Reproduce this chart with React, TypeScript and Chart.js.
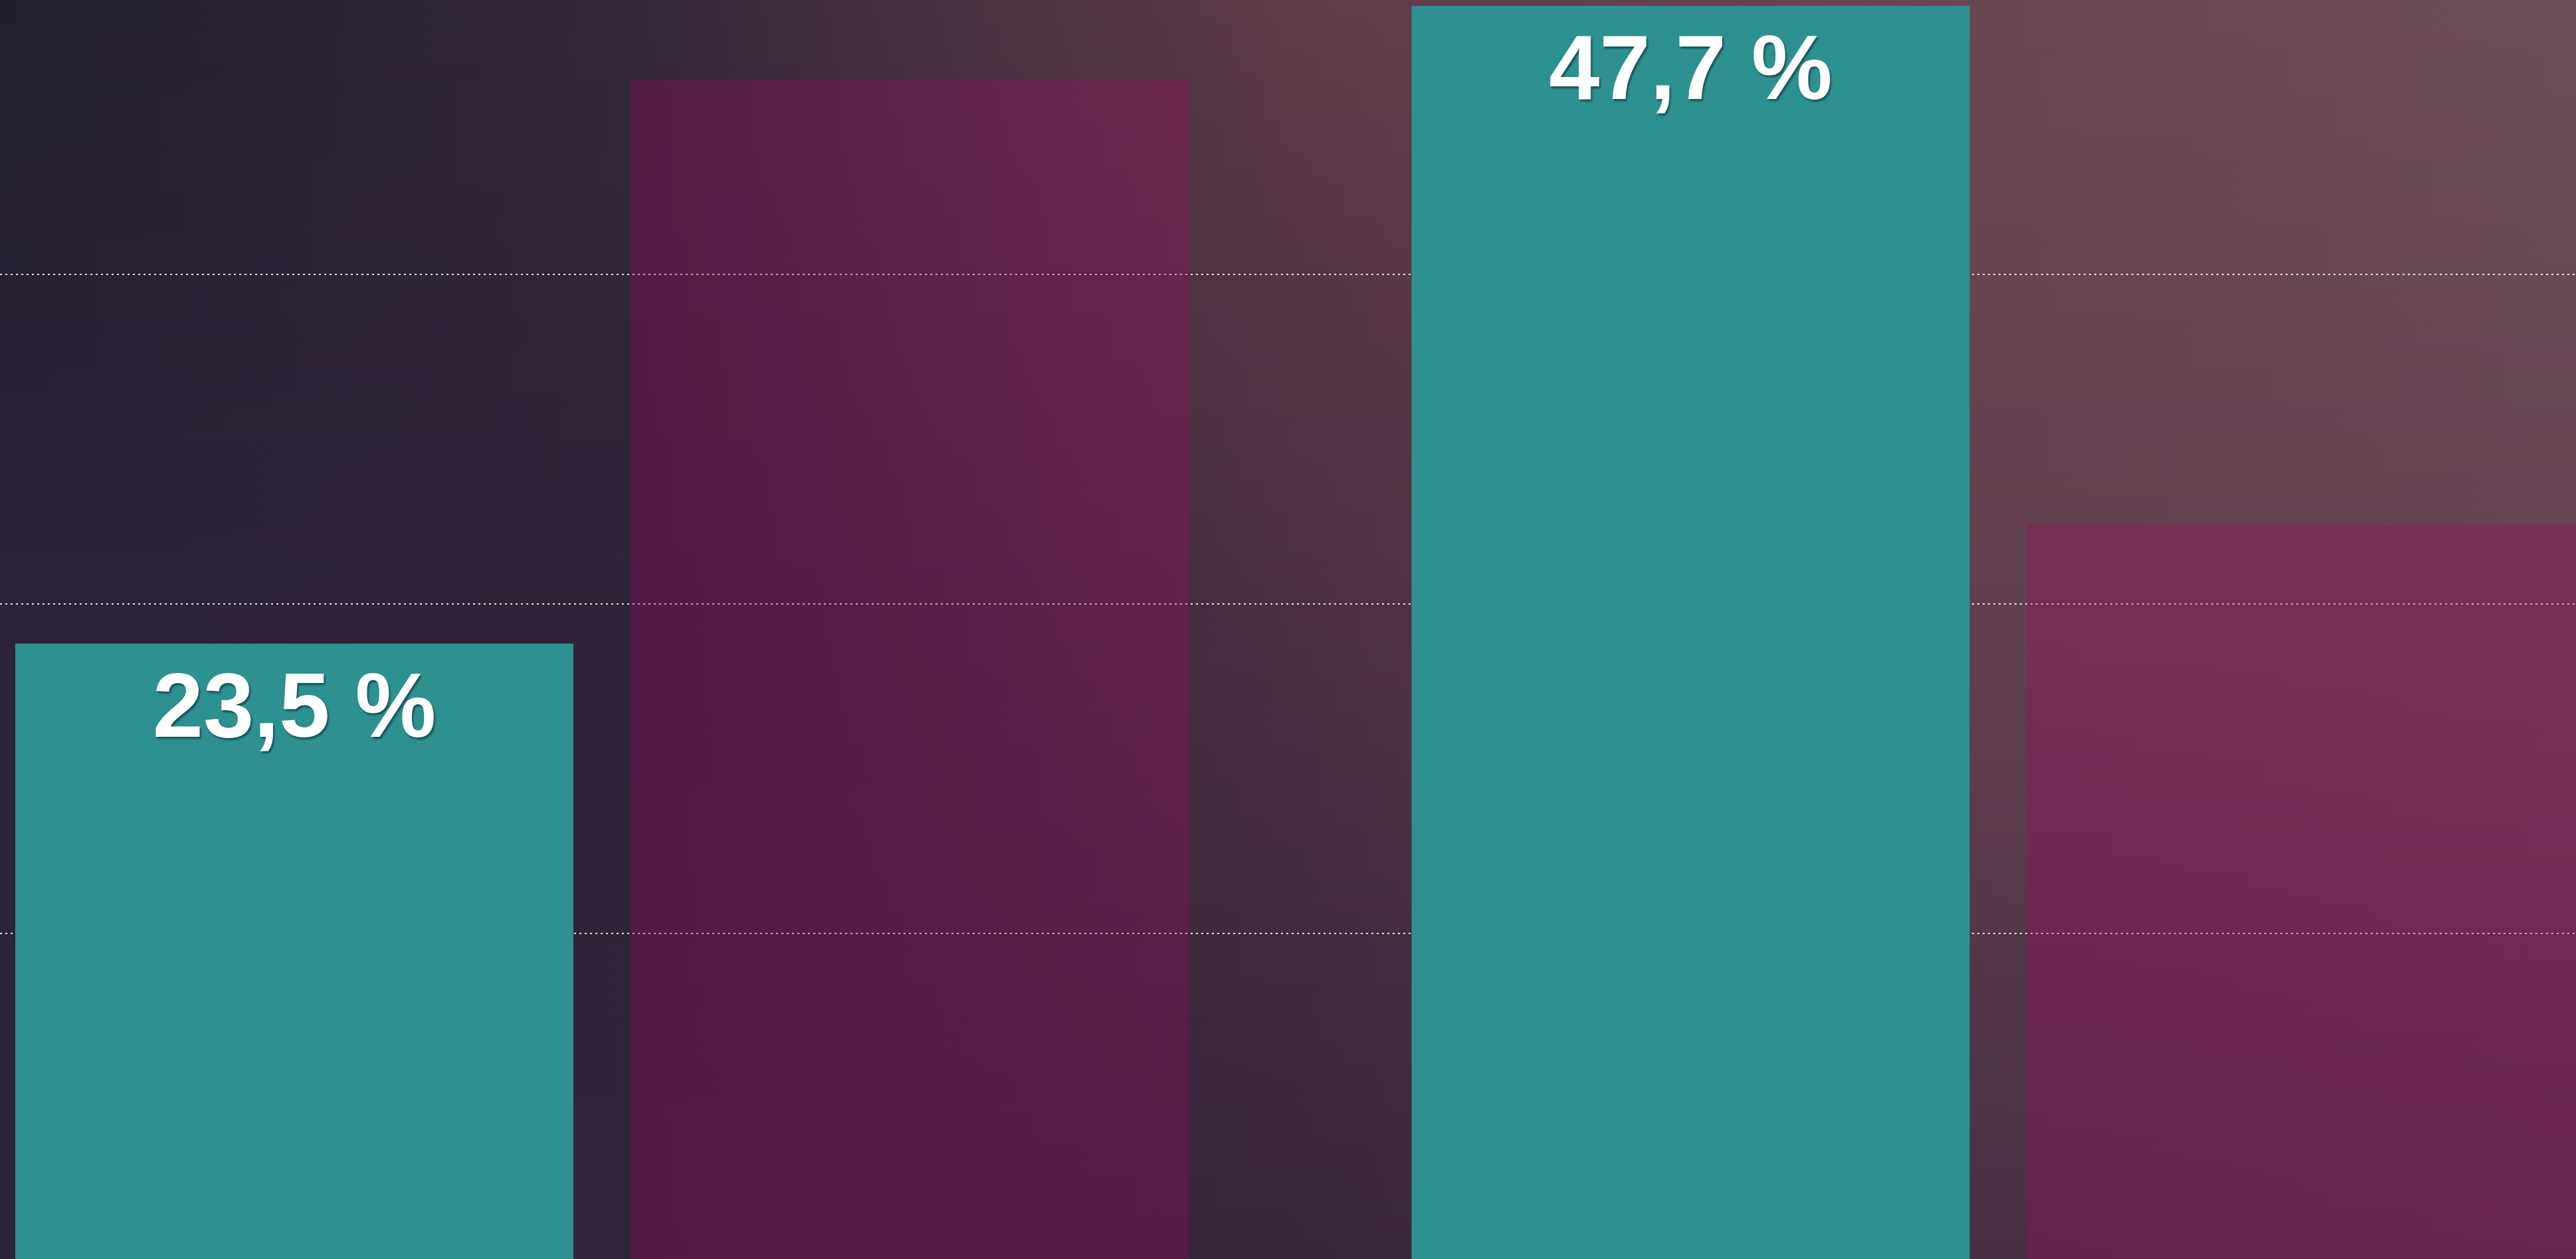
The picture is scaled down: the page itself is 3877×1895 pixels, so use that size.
import React, { useEffect, useRef } from 'react';
import { Chart, registerables } from 'chart.js';

Chart.register(...registerables);

// ---- data ----
const groupPositions = [0, 1];
const tealValues = [23.5, 47.7];
const purpleValues = [44.9, 28.0];
const tealLabels = ['23,5 %', '47,7 %'];
const gridTickValues = [12.5, 25, 37.5];

// ---- background colour field ----
const bgStopsX = [0, 0.25, 0.5, 0.75, 1];
const bgRowsY = [0, 0.5, 1];
const bgTop = ['#221f2d', '#342839', '#5d3b48', '#694651', '#6b4e5a'];
const bgMid = ['#2c2338', '#302338', '#4a2e42', '#623f4f', '#654452'];
const bgBottom = ['#2d2339', '#322439', '#37263a', '#472e43', '#4e3248'];

const W = 3877;
const H = 1895;

function hexToRgb(h: string): number[] {
  const n = parseInt(h.slice(1), 16);
  return [(n >> 16) & 255, (n >> 8) & 255, n & 255];
}

const backgroundPlugin = {
  id: 'bgField',
  beforeDraw(chart: any) {
    const { ctx, width, height } = chart;
    const rows = [bgTop, bgMid, bgBottom].map((r) => r.map(hexToRgb));
    ctx.save();
    for (let y = 0; y < height; y++) {
      const fy = y / (height - 1);
      let seg = 0;
      while (seg < bgRowsY.length - 2 && fy > bgRowsY[seg + 1]) seg++;
      const t = (fy - bgRowsY[seg]) / (bgRowsY[seg + 1] - bgRowsY[seg]);
      const g = ctx.createLinearGradient(0, 0, width, 0);
      for (let k = 0; k < bgStopsX.length; k++) {
        const a = rows[seg][k];
        const b = rows[seg + 1][k];
        const c = a.map((v: number, i: number) => Math.round(v + (b[i] - v) * t));
        g.addColorStop(bgStopsX[k], `rgb(${c[0]},${c[1]},${c[2]})`);
      }
      ctx.fillStyle = g;
      ctx.fillRect(0, y, width, 1);
    }
    ctx.restore();
  },
};

const labelPlugin = {
  id: 'tealLabels',
  afterDatasetsDraw(chart: any) {
    const { ctx } = chart;
    const meta = chart.getDatasetMeta(0);
    meta.data.forEach((bar: any, i: number) => {
      ctx.save();
      ctx.font = 'bold 137px "Liberation Sans", Arial, sans-serif';
      ctx.textAlign = 'center';
      ctx.textBaseline = 'alphabetic';
      ctx.shadowColor = 'rgba(0,0,0,0.45)';
      ctx.shadowOffsetX = 2;
      ctx.shadowOffsetY = 3;
      ctx.shadowBlur = 3;
      ctx.fillStyle = '#ffffff';
      ctx.fillText(tealLabels[i], bar.x, bar.y + 140);
      ctx.restore();
    });
  },
};

export default function App() {
  const ref = useRef<HTMLCanvasElement | null>(null);

  useEffect(() => {
    document.body.style.margin = '0';
    document.body.style.overflow = 'hidden';
    const canvas = ref.current;
    if (!canvas) return;
    const chart = new Chart(canvas, {
      type: 'bar',
      data: {
        datasets: [
          {
            label: 'teal',
            data: groupPositions.map((x, i) => ({ x, y: tealValues[i] })),
            backgroundColor: '#2c918f',
            borderWidth: 0,
            inflateAmount: 0,
            categoryPercentage: 0.8813,
            barPercentage: 0.9071,
          },
          {
            label: 'purple',
            data: groupPositions.map((x, i) => ({ x, y: purpleValues[i] })),
            backgroundColor: 'rgba(163,7,95,0.3)',
            borderWidth: 0,
            inflateAmount: 0,
            categoryPercentage: 0.8813,
            barPercentage: 0.9071,
          },
        ],
      },
      options: {
        responsive: false,
        animation: false,
        devicePixelRatio: 1,
        layout: { padding: 0 },
        plugins: {
          legend: { display: false },
          tooltip: { enabled: false },
          title: { display: false },
        },
        scales: {
          x: {
            type: 'linear',
            display: false,
            offset: false,
            bounds: 'data',
            min: -0.43112,
            max: 1.41375,
            afterBuildTicks: (axis: any) => {
              axis.ticks = groupPositions.map((v) => ({ value: v }));
            },
          },
          y: {
            type: 'linear',
            min: 0.15,
            max: 47.92,
            afterBuildTicks: (axis: any) => {
              axis.ticks = gridTickValues.map((v) => ({ value: v }));
            },
            ticks: { display: false },
            grid: {
              color: 'rgba(255,255,255,0.85)',
              lineWidth: 2,
              drawTicks: false,
            },
            border: { display: false, dash: [3, 5] },
          },
        },
      },
      plugins: [backgroundPlugin, labelPlugin],
    } as any);
    return () => chart.destroy();
  }, []);

  return (
    <div style={{ width: W, height: H, overflow: 'hidden' }}>
      <canvas ref={ref} width={W} height={H} style={{ display: 'block', width: W, height: H }} />
    </div>
  );
}
